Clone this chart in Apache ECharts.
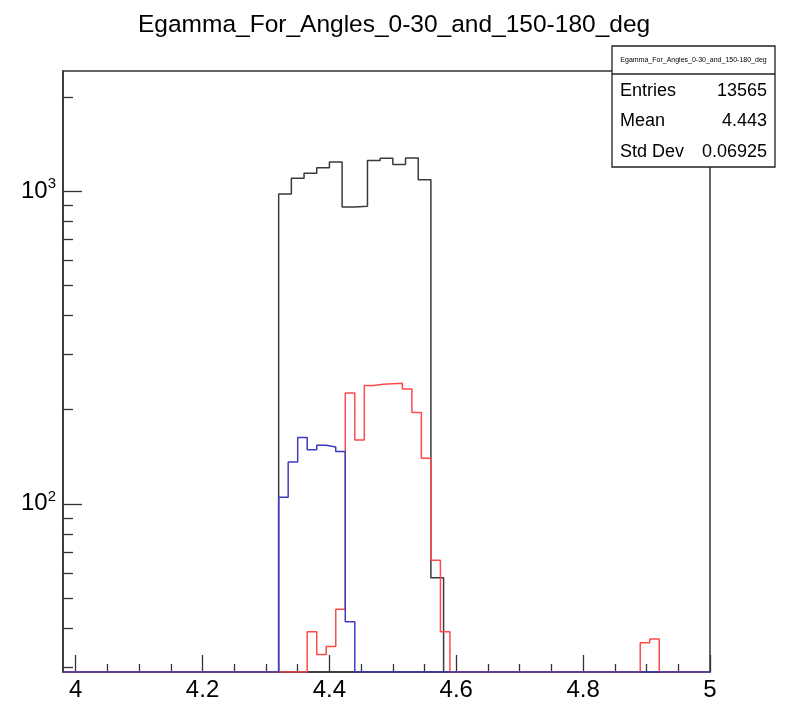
<!DOCTYPE html>
<html>
<head>
<meta charset="utf-8">
<title>Egamma_For_Angles_0-30_and_150-180_deg</title>
<script src="https://cdn.jsdelivr.net/npm/echarts@6/dist/echarts.min.js"></script>
<style>
  html, body { margin: 0; padding: 0; background: #fff; }
  #chart { width: 786px; height: 711px; }
</style>
</head>
<body>
<div id="chart"></div>
<script>
var histTitle = 'Egamma_For_Angles_0-30_and_150-180_deg';
var fontName = '"Liberation Sans", Arial, Helvetica, sans-serif';

// frame range
var xMin = 3.98, xMax = 5.0;
var yMin = 29, yMax = 2420;

// all events, 0.02 bins starting at 4.32
var blackStart = 4.32, blackWidth = 0.02;
var blackCounts = [978, 1098, 1141, 1187, 1238, 889, 894, 1253, 1272, 1217, 1275, 1087, 58];

// sub-samples, 0.015 bins starting at 4.32
var subStart = 4.32, subWidth = 0.015;
var blueCounts = [105, 136, 163, 149, 154, 152, 147, 42];
var redCounts = [0, 0, 0, 39, 33, 35, 46, 226, 160, 239, 241, 242, 243, 233, 196, 140, 66, 39,
  0, 0, 0, 0, 0, 0, 0, 0, 0, 0, 0, 0, 0, 0, 0, 0, 0, 0, 0, 0,
  36, 37];

// ticks
var xMajorTicks = [4, 4.2, 4.4, 4.6, 4.8, 5];
var xMinorTicks = [4.05, 4.1, 4.15, 4.25, 4.3, 4.35, 4.45, 4.5, 4.55, 4.65, 4.7, 4.75, 4.85, 4.9, 4.95];
var yMajorTicks = [100, 1000];
var yMinorTicks = [30, 40, 50, 60, 70, 80, 90, 200, 300, 400, 500, 600, 700, 800, 900, 2000];

// stats box
var statNames = ['Entries', 'Mean', 'Std Dev'];
var statValues = ['13565', '4.443', '0.06925'];

// histogram -> step points, empty bins sit on the frame floor like ROOT draws them
function histPoints(start, width, counts) {
    var pts = [[xMin, yMin]];
    counts.forEach(function (c, i) {
        pts.push([+(start + i * width).toFixed(4), Math.max(c, yMin)]);
    });
    pts.push([+(start + counts.length * width).toFixed(4), yMin]);
    pts.push([xMax, yMin]);
    return pts;
}

function histSeries(name, pts, color) {
    return {
        name: name,
        type: 'line',
        step: 'end',
        data: pts,
        symbol: 'none',
        showSymbol: false,
        clip: true,
        lineStyle: {color: color, width: 1.5},
        emphasis: {disabled: true},
        animation: false
    };
}

var chart = echarts.init(document.getElementById('chart'));

var graphics = [
    {type: 'rect', z: 100, shape: {x: 612, y: 46, width: 163, height: 121},
        style: {fill: '#fff', stroke: '#222', lineWidth: 1.3}},
    {type: 'line', z: 101, shape: {x1: 612, y1: 74, x2: 775, y2: 74},
        style: {stroke: '#222', lineWidth: 1.3}},
    {type: 'text', z: 101, x: 693.5, y: 60,
        style: {text: histTitle, fontSize: 7, fontFamily: fontName, fill: '#000', align: 'center', verticalAlign: 'middle'}}
];
statNames.forEach(function (n, i) {
    graphics.push({type: 'text', z: 101, x: 620, y: 91 + i * 30.5,
        style: {text: n, fontSize: 18, fontFamily: fontName, fill: '#000', align: 'left', verticalAlign: 'middle'}});
    graphics.push({type: 'text', z: 101, x: 767, y: 91 + i * 30.5,
        style: {text: statValues[i], fontSize: 18, fontFamily: fontName, fill: '#000', align: 'right', verticalAlign: 'middle'}});
});

var option = {
    backgroundColor: '#fff',
    animation: false,
    title: {
        text: histTitle,
        left: 133,
        top: 8,
        textStyle: {fontSize: 24.5, fontWeight: 'normal', fontFamily: fontName, color: '#000'}
    },
    grid: {
        left: 63, right: 76, top: 71, bottom: 39,
        show: true, borderColor: '#333', borderWidth: 1.5,
        containLabel: false, outerBoundsMode: 'none'
    },
    xAxis: [{
        type: 'value', min: xMin, max: xMax, position: 'bottom',
        axisLine: {show: true, onZero: false, lineStyle: {color: '#333', width: 1.5}},
        axisTick: {show: true, inside: true, length: 17, customValues: xMajorTicks, lineStyle: {color: '#333', width: 1.3}},
        axisLabel: {
            customValues: xMajorTicks, margin: 6, fontSize: 24, fontFamily: fontName, color: '#000',
            formatter: function (v) { return String(+v.toFixed(2)); }
        },
        splitLine: {show: false}
    }, {
        type: 'value', min: xMin, max: xMax, position: 'bottom',
        axisLine: {show: false},
        axisTick: {show: true, inside: true, length: 8, customValues: xMinorTicks, lineStyle: {color: '#333', width: 1.3}},
        axisLabel: {show: false},
        splitLine: {show: false}
    }],
    yAxis: [{
        type: 'log', logBase: 10, min: yMin, max: yMax, position: 'left',
        axisLine: {show: true, lineStyle: {color: '#333', width: 1.5}},
        axisTick: {show: true, inside: true, length: 19, customValues: yMajorTicks, lineStyle: {color: '#333', width: 1.3}},
        axisLabel: {
            customValues: yMajorTicks, margin: 7,
            formatter: function (v) { return '{b|10}{s|' + Math.round(Math.log10(v)) + '}'; },
            rich: {
                b: {fontSize: 24, fontFamily: fontName, color: '#000'},
                s: {fontSize: 15, fontFamily: fontName, color: '#000', padding: [0, 0, 14, 0]}
            }
        },
        splitLine: {show: false}
    }, {
        type: 'log', logBase: 10, min: yMin, max: yMax, position: 'left',
        axisLine: {show: false},
        axisTick: {show: true, inside: true, length: 10, customValues: yMinorTicks, lineStyle: {color: '#333', width: 1.3}},
        axisLabel: {show: false},
        splitLine: {show: false}
    }],
    series: [
        histSeries('all', histPoints(blackStart, blackWidth, blackCounts), '#3a3a3a'),
        histSeries('red', histPoints(subStart, subWidth, redCounts), '#ff4a4a'),
        histSeries('blue', histPoints(subStart, subWidth, blueCounts), '#3b3bbf')
    ],
    graphic: graphics
};

chart.setOption(option);
</script>
</body>
</html>
